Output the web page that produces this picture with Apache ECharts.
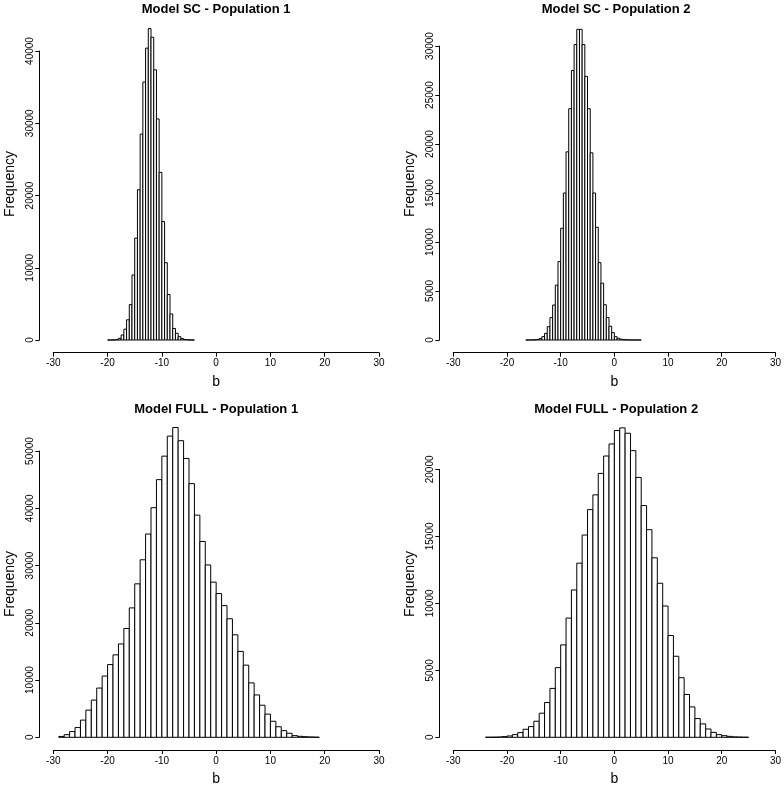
<!DOCTYPE html>
<html>
<head>
<meta charset="utf-8">
<script src="https://cdn.jsdelivr.net/npm/echarts@6/dist/echarts.min.js"></script>
<style>html,body{margin:0;padding:0;background:#fff}#c{width:784px;height:787px}</style>
</head>
<body>
<div id="c"></div>
<script>
// ---- data ----
var titles = ['Model SC - Population 1', 'Model SC - Population 2', 'Model FULL - Population 1', 'Model FULL - Population 2'];
var xTicks = [-30, -20, -10, 0, 10, 20, 30];

var sc1Start = -20, sc1Width = 0.5;
var sc1Counts = [2, 5, 15, 60, 230, 700, 1500, 2800, 4900, 9000, 14100, 20800, 28500, 35700, 40400, 43100,
  41900, 37400, 30600, 23200, 16400, 10700, 6300, 3600, 1600, 930, 460, 200, 80, 30, 10, 3];

var sc2Start = -16.5, sc2Width = 0.5;
var sc2Counts = [1, 3, 10, 25, 60, 150, 340, 680, 1360, 2280, 3570, 5600, 8000, 11400, 15000, 19200, 23600,
  27500, 30150, 31700, 31700, 30150, 26900, 23600, 19100, 15000, 11500, 7900, 5800, 3600, 2300, 1400, 750,
  340, 170, 80, 40, 20, 10, 5, 2, 1, 1];

var full1Start = -29, full1Width = 1;
var full1Counts = [150, 460, 1000, 1700, 3000, 4750, 6500, 8600, 10700, 12700, 14400, 16300, 19000, 22600,
  26800, 31000, 35500, 40100, 45000, 49100, 52600, 54100, 51800, 48700, 44300, 38800, 34200, 30100, 27100,
  25100, 23000, 20700, 17900, 15000, 12600, 9500, 7400, 5600, 4050, 2800, 1850, 1160, 700, 290, 170, 100, 50, 20];

var full2Start = -24, full2Width = 1;
var full2Counts = [5, 10, 20, 50, 100, 200, 350, 600, 800, 1200, 1800, 2600, 3650, 5200, 6900, 8900, 11000,
  13000, 15100, 17000, 18100, 19700, 21000, 21900, 22900, 23100, 22700, 21400, 19400, 17300, 15500, 13400,
  11500, 9800, 7600, 6050, 4450, 3200, 2270, 1400, 1000, 620, 370, 200, 120, 70, 30, 15, 5];

var yMaxTick = [40000, 30000, 50000, 20000];
var yStep = [10000, 5000, 10000, 5000];

// ---- build ----
function bins(start, width, counts) {
  return counts.map(function (c, i) { return [start + i * width, start + (i + 1) * width, c]; });
}
var allData = [
  bins(sc1Start, sc1Width, sc1Counts),
  bins(sc2Start, sc2Width, sc2Counts),
  bins(full1Start, full1Width, full1Counts),
  bins(full2Start, full2Width, full2Counts)
];

var FONT = "'Liberation Sans', Arial, Helvetica, sans-serif";
var plotLeft = [53.3, 453.3, 53.3, 453.3];
var plotW = 325.7;
var zeroY = [340, 340, 740, 740];
var topY = [51, 46, 451, 469.4];

var grids = [], xAxes = [], yAxes = [], series = [], titleOpts = [], graphics = [];
for (var i = 0; i < 4; i++) {
  grids.push({ left: plotLeft[i], top: topY[i], width: plotW, height: zeroY[i] - topY[i], containLabel: false });
  xAxes.push({
    type: 'value', gridIndex: i, min: xTicks[0], max: xTicks[xTicks.length - 1], interval: 10, offset: 12.7,
    axisLine: { show: true, onZero: false, lineStyle: { color: '#000', width: 1 } },
    axisTick: { show: true, length: 4, lineStyle: { color: '#000' } },
    splitLine: { show: false },
    axisLabel: { color: '#000', fontSize: 10, fontFamily: FONT, margin: 6, formatter: function (v) { return String(v); } },
    name: 'b', nameLocation: 'middle', nameGap: 22,
    nameTextStyle: { color: '#000', fontSize: 14, fontFamily: FONT }
  });
  yAxes.push({
    type: 'value', gridIndex: i, min: 0, max: yMaxTick[i], interval: yStep[i], offset: 14,
    axisLine: { show: true, onZero: false, lineStyle: { color: '#000', width: 1 } },
    axisTick: { show: true, length: 4, lineStyle: { color: '#000' } },
    splitLine: { show: false },
    axisLabel: { color: '#000', fontSize: 10, fontFamily: FONT, rotate: 90, margin: 4, formatter: function (v) { return String(v); } }
  });
  series.push({
    type: 'custom', xAxisIndex: i, yAxisIndex: i, clip: false, data: allData[i],
    encode: { x: [0, 1], y: 2 },
    renderItem: function (params, api) {
      var p0 = api.coord([api.value(0), 0]);
      var p1 = api.coord([api.value(1), api.value(2)]);
      return {
        type: 'rect',
        shape: { x: p0[0], y: p1[1], width: p1[0] - p0[0], height: p0[1] - p1[1] },
        style: { fill: '#fff', stroke: '#000', lineWidth: 1 }
      };
    }
  });
  titleOpts.push({
    text: titles[i], left: plotLeft[i] + plotW / 2, top: i < 2 ? 3 : 403, textAlign: 'center', padding: 0,
    textStyle: { color: '#000', fontSize: 13, fontWeight: 'bold', fontFamily: FONT }
  });
  graphics.push({
    type: 'text', x: i % 2 === 0 ? 10 : 410, y: i < 2 ? 184 : 584, rotation: Math.PI / 2,
    style: { text: 'Frequency', fill: '#000', font: '14px ' + FONT, align: 'center', verticalAlign: 'middle' }
  });
}

var chart = echarts.init(document.getElementById('c'), null, { renderer: 'canvas' });
chart.setOption({
  animation: false,
  backgroundColor: '#fff',
  title: titleOpts,
  grid: grids,
  xAxis: xAxes,
  yAxis: yAxes,
  series: series,
  graphic: graphics
});
</script>
</body>
</html>
